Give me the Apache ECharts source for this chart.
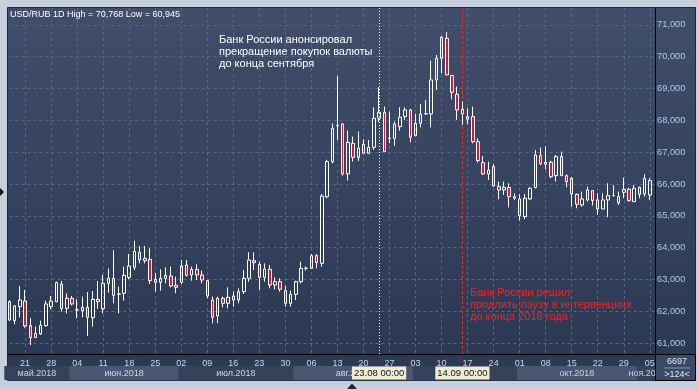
<!DOCTYPE html>
<html><head><meta charset="utf-8">
<script src="https://cdn.jsdelivr.net/npm/echarts@6/dist/echarts.min.js"></script>
<style>html,body{margin:0;padding:0;background:#c6cfdb;}#c{width:698px;height:389px;}</style>
</head><body><div id="c"></div>
<script>
// ---- data (USD/RUB daily candles, 16.05.2018 - 05.11.2018) ----
const firstDate = '2018-05-16';
const slotCount = 125; // 124 candles + one empty slot on the right
const openP = [62308,61711,62151,62328,61554,61178,61293,61554,62151,62308,
 62862,62098,62412,62046,62025,62130,61805,62381,62088,62883,
 63040,62540,62569,63071,63385,63856,63594,63636,63008,62914,
 63040,63113,62820,62914,63458,63144,63322,63144,62966,62360,
 61858,62412,62255,62485,62360,62621,63040,63594,63479,63071,
 63322,62830,62935,62653,62255,62538,62935,63354,63354,63751,
 63510,65605,66704,67830,67887,66317,67280,66840,67248,66966,
 67154,68065,68253,67437,67437,67803,68117,68326,67520,67908,
 68201,68201,69268,69948,70576,69404,68818,68347,68033,68117,
 67332,66672,66317,66547,65919,65814,65888,65605,65532,64977,
 65532,65888,66892,66683,66683,66264,66861,66264,66181,65678,
 65343,65500,65793,65500,65218,65500,65636,65417,65741,65835,
 65448,65898,65689,65657];
const closeP = [61732,62172,62360,61544,61178,61314,61565,62234,62328,62904,
 62088,62412,62234,62050,62130,61816,62381,62308,62883,63040,
 62506,62548,63134,63427,63887,63615,63667,62966,62914,63040,
 63134,62799,62757,63427,63134,63322,63144,62987,62485,61816,
 62412,62255,62443,62360,62621,63040,63615,63531,63071,63333,
 62830,62935,62695,62255,62538,62935,63354,63360,63751,63531,
 65623,66704,67751,67840,66317,67311,66840,67123,66966,67154,
 68065,68253,67018,67445,67887,68096,68326,67468,67908,68201,
 68210,69268,69948,70608,69425,68881,68326,68201,68117,67332,
 66735,66317,66442,65940,65814,65898,65605,65553,65009,65553,
 65867,66913,66631,66620,66233,66861,66264,66076,65689,65364,
 65532,65814,65479,65218,65500,65636,65640,65605,65835,65479,
 65867,65678,66181,66108];
const lowP = [61700,61596,61816,61492,60945,61170,61262,61523,62067,62290,
 61994,61941,62192,61785,61816,61230,61523,62088,61941,62590,
 62255,61941,62339,63008,63301,63510,63510,62862,62621,62653,
 62883,62757,62569,62862,63092,62966,62987,62883,62412,61628,
 61628,62130,62098,62151,62255,62548,62935,63301,62674,62935,
 62726,62695,62621,62150,62150,62360,62883,63280,63354,63354,
 63406,65553,66650,67384,66264,66108,66704,66725,66945,66945,
 67070,67950,67018,67280,67206,67677,68012,67311,67500,67782,
 68170,67782,68954,69477,69425,68661,68012,67855,67876,67280,
 66672,66285,66128,65919,65521,65657,65270,65500,64851,64904,
 65500,65867,66599,66463,66181,66076,66264,65898,65291,65239,
 65291,65448,65322,65030,65208,64956,65605,65343,65553,65448,
 65448,65553,65605,65500];
const highP = [62350,62203,62800,62674,61785,61523,61711,62339,62485,62935,
 62956,62569,62485,62381,62464,62611,62642,62956,63144,63354,
 63929,62778,63406,63803,64222,64054,64054,63981,63197,63322,
 63385,63406,63092,63615,63615,63406,63479,63280,62987,62464,
 62464,62464,62757,62621,62726,63301,63856,63856,63563,63510,
 63458,63071,63040,62800,62653,62967,63563,63406,63803,63803,
 65686,66760,67900,69394,67908,67677,67489,67646,67405,67384,
 68410,69038,68431,68274,67960,68410,68410,68358,68201,68515,
 68640,69875,70050,70650,70768,69404,69059,68588,68379,68431,
 67437,66882,66704,66631,66076,66076,66024,65710,65678,65689,
 65898,67070,67144,67175,66735,66913,67018,66300,66212,65700,
 65762,65919,65814,65710,65710,66024,65971,65762,66202,65888,
 65971,65919,66306,66181];
const yMin = 60664, yMax = 71527;
const months = [
  {name:'май.2018', from:'2018-05-16', to:'2018-05-31'},
  {name:'июн.2018', from:'2018-06-01', to:'2018-06-29'},
  {name:'июл.2018', from:'2018-07-02', to:'2018-07-31'},
  {name:'авг.2018', from:'2018-08-01', to:'2018-08-31'},
  {name:'сен.2018', from:'2018-09-03', to:'2018-09-28'},
  {name:'окт.2018', from:'2018-10-01', to:'2018-10-31'},
  {name:'ноя.2018', from:'2018-11-01', to:'2018-11-06'}
];
const eventDates = ['2018-08-23', '2018-09-14'];
const eventColors = ['#ffffff', '#ff2020'];
const note1 = 'Банк России анонсировал\nпрекращение покупок валюты\nдо конца сентября';
const note2 = 'Банк России решил\nпродлить паузу в интервенциях\nдо конца 2018 года';
const barsInfo = ['6697', '>124<'];

// ---- build ----
const categories = [];
{ let d = new Date(firstDate + 'T00:00:00Z');
  while (categories.length < slotCount) {
    const wd = d.getUTCDay();
    if (wd !== 0 && wd !== 6) categories.push(d.toISOString().slice(0, 10));
    d = new Date(d.getTime() + 86400000);
  } }
const isMonday = v => new Date(v + 'T00:00:00Z').getUTCDay() === 1;
const fmt = v => Math.round(v).toString().replace(/\B(?=(\d{3})+(?!\d))/g, ',');
const candleData = openP.map((o, i) => [o, closeP[i], lowP[i], highP[i]]);
const lastClose = closeP[closeP.length - 1];
const monthBands = months.map(m => [categories.indexOf(m.from) - 0.5, categories.indexOf(m.to) + 0.5]);
monthBands[0][0] = -1; monthBands[monthBands.length - 1][1] = slotCount - 0.5;
const eventIdx = eventDates.map(d => [categories.indexOf(d), 0.5]);
const FONT = '"Liberation Sans", Arial, sans-serif';
const GRID = '#56668a';

const chart = echarts.init(document.getElementById('c'), null, {width: 698, height: 389});
chart.setOption({
  animation: false,
  backgroundColor: '#c6cfdb',
  textStyle: {fontFamily: FONT},
  graphic: [
    {type: 'rect', z: -20, shape: {x: 7.5, y: 7.5, width: 688, height: 373},
      style: {fill: new echarts.graphic.LinearGradient(0, 0, 0, 1, [{offset: 0, color: '#404e6a'}, {offset: 1, color: '#2a3751'}]), stroke: '#1f2838', lineWidth: 1}},
    {type: 'rect', z: -19, shape: {x: 8, y: 354, width: 647, height: 26.5}, style: {fill: '#2d3a53'}},
    {type: 'text', z: 20, style: {text: 'USD/RUB 1D High = ' + fmt(Math.max(...highP)) + ' Low = ' + fmt(Math.min(...lowP)), x: 10, y: 10, fill: '#ffffff', font: '9px ' + FONT}},
    {type: 'text', z: 20, style: {text: note1, x: 219, y: 34, fill: '#ffffff', font: '11px ' + FONT, lineHeight: 12}},
    {type: 'text', z: 20, style: {text: note2, x: 470, y: 287, fill: '#ff1e1e', font: '11px ' + FONT, lineHeight: 12}},
    {type: 'rect', z: 30, shape: {x: 655.5, y: 354.5, width: 40, height: 26}, style: {fill: '#3c4965', stroke: '#000', lineWidth: 1}},
    {type: 'line', z: 31, shape: {x1: 664, y1: 368, x2: 690, y2: 368}, style: {stroke: '#8c98ac', lineWidth: 1}},
    {type: 'text', z: 31, style: {text: barsInfo[0], x: 677, y: 361.5, align: 'center', verticalAlign: 'middle', fill: '#dfe6f0', font: '9px ' + FONT}},
    {type: 'text', z: 31, style: {text: barsInfo[1], x: 677, y: 375, align: 'center', verticalAlign: 'middle', fill: '#dfe6f0', font: '9px ' + FONT}},
    {type: 'line', z: 29, shape: {x1: 655.5, y1: 8, x2: 655.5, y2: 381}, style: {stroke: '#000', lineWidth: 1}},
    {type: 'line', z: 29, shape: {x1: 8, y1: 354.5, x2: 696, y2: 354.5}, style: {stroke: '#000', lineWidth: 1}},
    {type: 'polygon', z: 5, shape: {points: [[0, 188], [4, 192], [0, 196]]}, style: {fill: '#111'}},
    {type: 'polygon', z: 5, shape: {points: [[347, 389], [352, 383.5], [357, 389]]}, style: {fill: '#1c2436'}}
  ],
  grid: [
    {left: 9.5, right: 43, top: 8, bottom: 35},
    {left: 9.5, right: 43, top: 366, height: 14}
  ],
  xAxis: [
    {type: 'category', gridIndex: 0, data: categories, boundaryGap: false,
      axisLine: {show: false}, axisTick: {show: false},
      axisLabel: {interval: (i, v) => isMonday(v), formatter: v => v.slice(8), color: '#c9d4e4', fontSize: 9, margin: 5},
      splitLine: {show: true, interval: (i, v) => isMonday(v), lineStyle: {color: GRID, type: [3, 3], width: 1}}},
    {type: 'value', gridIndex: 1, min: 0, max: slotCount - 1, show: false}
  ],
  yAxis: [
    {type: 'value', gridIndex: 0, position: 'right', min: yMin, max: yMax, splitNumber: 10,
      axisLine: {show: false}, axisTick: {show: false},
      axisLabel: {color: '#aac8ee', fontSize: 9.3, margin: 2, showMinLabel: false, showMaxLabel: false,
        formatter: v => (Math.abs(v % 1000) < 1e-6 ? fmt(v) : '')},
      splitLine: {show: true, showMinLine: false, showMaxLine: false, lineStyle: {color: GRID, type: [3, 3], width: 1}}},
    {type: 'value', gridIndex: 1, min: 0, max: 1, show: false}
  ],
  series: [
    {type: 'candlestick', xAxisIndex: 0, yAxisIndex: 0, data: candleData, barWidth: 3, clip: false, z: 5,
      itemStyle: {color: 'rgba(0,0,0,0)', color0: '#e3122f', borderColor: '#ffffff', borderColor0: '#ffffff', borderWidth: 1},
      markLine: {silent: true, symbol: ['none', 'none'], animation: false,
        data: [
          {xAxis: eventDates[0], lineStyle: {color: eventColors[0], type: [1, 2], width: 1}, label: {show: false}},
          {xAxis: eventDates[1], lineStyle: {color: eventColors[1], type: [3, 2], width: 1}, label: {show: false}},
          {yAxis: lastClose, lineStyle: {opacity: 0},
            label: {show: true, position: 'end', distance: 4, formatter: fmt(lastClose), color: '#1a1a1a', fontSize: 9.3,
              backgroundColor: '#c9ccd3', padding: [2, 3, 1, 3], fontFamily: FONT}}
        ]}},
    {type: 'custom', xAxisIndex: 1, yAxisIndex: 1, data: monthBands, z: 1, silent: true,
      renderItem: (params, api) => {
        const a = api.coord([api.value(0), 0]);
        const b = api.coord([api.value(1), 1]);
        return {type: 'group', children: [
          {type: 'rect', shape: {x: a[0], y: b[1], width: b[0] - a[0], height: a[1] - b[1]},
            style: {fill: params.dataIndex % 2 ? '#4a5772' : '#35425c'}},
          {type: 'text', style: {text: months[params.dataIndex].name, x: (a[0] + b[0]) / 2, y: (a[1] + b[1]) / 2 + 0.5,
            align: 'center', verticalAlign: 'middle', fill: '#c9d4e4', font: '9px ' + FONT}}
        ]};
      }},
    {type: 'custom', xAxisIndex: 1, yAxisIndex: 1, data: eventIdx, z: 3, silent: true,
      renderItem: (params, api) => {
        const p = api.coord([api.value(0), api.value(1)]);
        const d = eventDates[params.dataIndex];
        return {type: 'text', style: {text: d.slice(8, 10) + '.' + d.slice(5, 7) + ' 00:00', x: p[0], y: p[1],
          align: 'center', verticalAlign: 'middle', fill: '#111', font: '9.5px ' + FONT,
          backgroundColor: '#efecd2', padding: [2, 2, 1, 2]}};
      }}
  ]
});
</script></body></html>
